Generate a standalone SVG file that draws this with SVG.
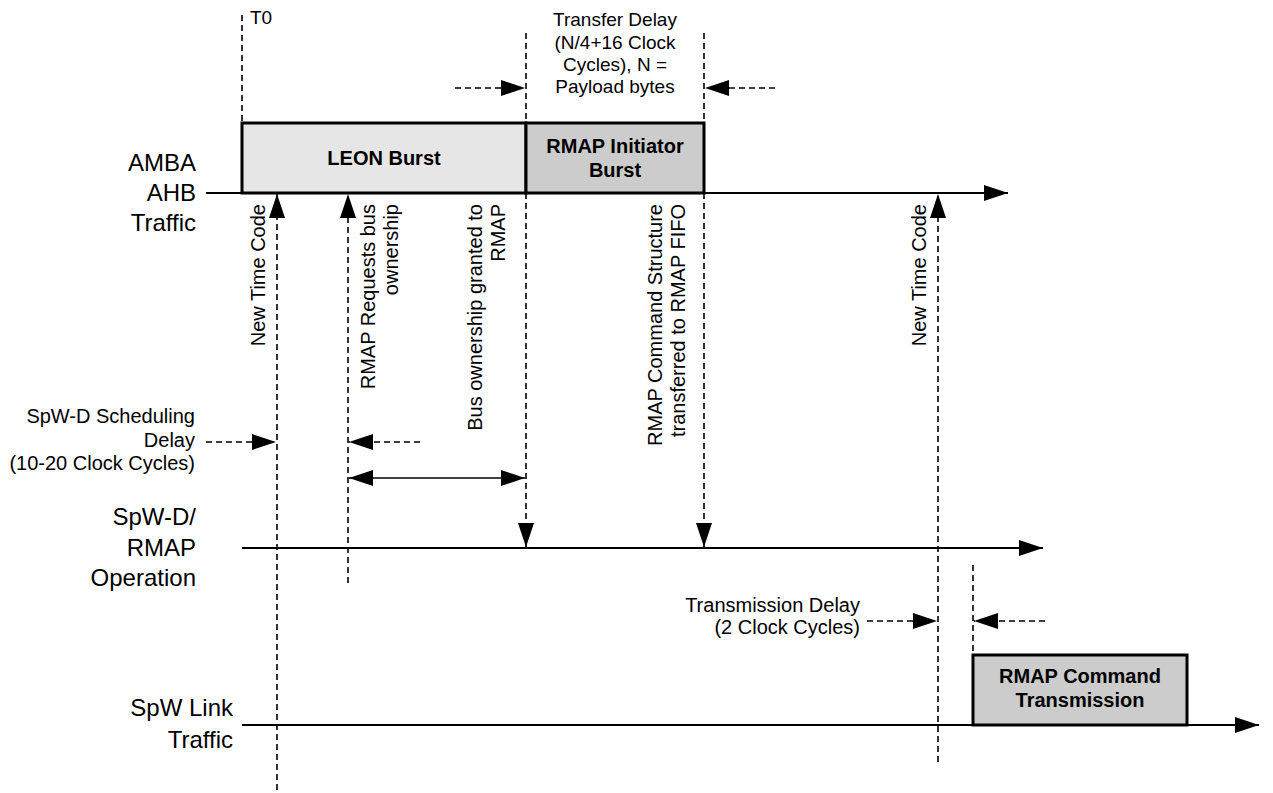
<svg xmlns="http://www.w3.org/2000/svg" width="1273" height="793" viewBox="0 0 1273 793">
<defs>
<marker id="ah" viewBox="0 0 24 16" refX="24" refY="8" markerWidth="24" markerHeight="16" markerUnits="userSpaceOnUse" orient="auto-start-reverse">
<path d="M0,0 L24,8 L0,16 Z" fill="#000"/>
</marker>
<style>
.t{font-family:"Liberation Sans",Arial,sans-serif;font-size:20px;fill:#000}
.t19{font-family:"Liberation Sans",Arial,sans-serif;font-size:19px;fill:#000}
.big{font-family:"Liberation Sans",Arial,sans-serif;font-size:24px;fill:#000}
.b{font-family:"Liberation Sans",Arial,sans-serif;font-size:20px;font-weight:bold;fill:#000}
.axis{stroke:#000;stroke-width:2;fill:none}
.dash{stroke:#000;stroke-width:1.6;stroke-dasharray:6,4;fill:none}
.solid{stroke:#000;stroke-width:1.6;fill:none}
.box{stroke:#000;stroke-width:3}
</style>
</defs>
<rect width="1273" height="793" fill="#fff"/>

<g id="labels">
<text class="big" text-anchor="end"><tspan x="196" y="171">AMBA</tspan><tspan x="196" y="201">AHB</tspan><tspan x="196" y="231">Traffic</tspan></text>
<text class="big" text-anchor="end"><tspan x="196" y="525">SpW-D/</tspan><tspan x="196" y="556">RMAP</tspan><tspan x="196" y="586">Operation</tspan></text>
<text class="big" text-anchor="end"><tspan x="233" y="716">SpW Link</tspan><tspan x="233" y="748">Traffic</tspan></text>
<text class="t19" x="250" y="24">T0</text>
<text class="t19" text-anchor="middle"><tspan x="615" y="26">Transfer Delay</tspan><tspan x="615" y="49">(N/4+16 Clock</tspan><tspan x="615" y="71">Cycles), N =</tspan><tspan x="615" y="93">Payload bytes</tspan></text>
<text class="t" text-anchor="end"><tspan x="195" y="423">SpW-D Scheduling</tspan><tspan x="195" y="447">Delay</tspan><tspan x="195" y="470">(10-20 Clock Cycles)</tspan></text>
<text class="t" text-anchor="end"><tspan x="860" y="612">Transmission Delay</tspan><tspan x="860" y="634">(2 Clock Cycles)</tspan></text>
<text class="t" text-anchor="end" transform="translate(265,204) rotate(-90)">New Time Code</text>
<text class="t" text-anchor="end" transform="translate(926,204) rotate(-90)">New Time Code</text>
<text class="t" text-anchor="end" transform="translate(375,204) rotate(-90)">RMAP Requests bus</text>
<text class="t" text-anchor="end" transform="translate(398,204) rotate(-90)">ownership</text>
<text class="t" text-anchor="end" transform="translate(482,204) rotate(-90)">Bus ownership granted to</text>
<text class="t" text-anchor="end" transform="translate(505,204) rotate(-90)">RMAP</text>
<text class="t" text-anchor="end" transform="translate(662,204) rotate(-90)">RMAP Command Structure</text>
<text class="t" text-anchor="end" transform="translate(685,204) rotate(-90)">transferred to RMAP FIFO</text>
</g>

<g id="connectors">
<line class="axis" x1="206" y1="193" x2="1008" y2="193" marker-end="url(#ah)"/>
<line class="axis" x1="242" y1="548" x2="1043" y2="548" marker-end="url(#ah)"/>
<line class="axis" x1="242" y1="725" x2="1259" y2="725" marker-end="url(#ah)"/>
<line class="dash" x1="242" y1="15" x2="242" y2="123"/>
<line class="dash" x1="526" y1="33" x2="526" y2="123"/>
<line class="dash" x1="704" y1="33" x2="704" y2="123"/>
<line class="dash" x1="277" y1="790" x2="277" y2="194" marker-end="url(#ah)"/>
<line class="dash" x1="348" y1="583" x2="348" y2="194" marker-end="url(#ah)"/>
<line class="dash" x1="938" y1="762" x2="938" y2="194" marker-end="url(#ah)"/>
<line class="dash" x1="526" y1="193" x2="526" y2="547" marker-end="url(#ah)"/>
<line class="dash" x1="704" y1="193" x2="704" y2="547" marker-end="url(#ah)"/>
<line class="dash" x1="973" y1="565" x2="973" y2="655"/>
<line class="dash" x1="455" y1="88" x2="525" y2="88" marker-end="url(#ah)"/>
<line class="dash" x1="775" y1="88" x2="705" y2="88" marker-end="url(#ah)"/>
<line class="dash" x1="206" y1="442" x2="276" y2="442" marker-end="url(#ah)"/>
<line class="dash" x1="420" y1="442" x2="349" y2="442" marker-end="url(#ah)"/>
<line class="solid" x1="349" y1="478" x2="525" y2="478" marker-start="url(#ah)" marker-end="url(#ah)"/>
<line class="dash" x1="867" y1="621" x2="937" y2="621" marker-end="url(#ah)"/>
<line class="dash" x1="1045" y1="621" x2="974" y2="621" marker-end="url(#ah)"/>
</g>

<g id="leon-burst">
<rect class="box" x="242" y="123" width="284" height="70" fill="#e6e6e6"/>
<text class="b" x="384" y="165" text-anchor="middle">LEON Burst</text>
</g>
<g id="rmap-initiator-burst">
<rect class="box" x="526" y="123" width="178" height="70" fill="#cccccc"/>
<text class="b" text-anchor="middle"><tspan x="615" y="153">RMAP Initiator</tspan><tspan x="615" y="177">Burst</tspan></text>
</g>
<g id="rmap-command-transmission">
<rect class="box" x="973" y="655" width="214" height="70" fill="#cccccc"/>
<text class="b" text-anchor="middle"><tspan x="1080" y="683">RMAP Command</tspan><tspan x="1080" y="707">Transmission</tspan></text>
</g>
</svg>
